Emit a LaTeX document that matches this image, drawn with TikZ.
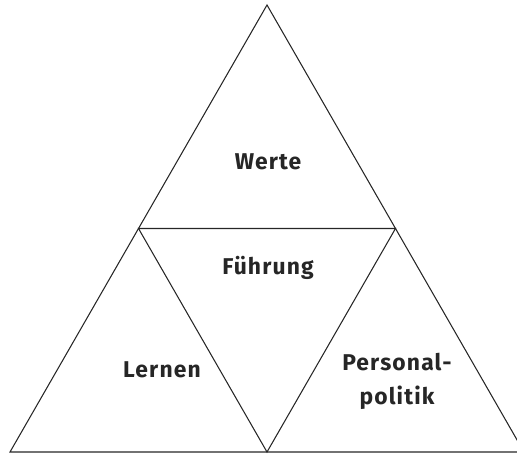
\documentclass[tikz,border=0pt]{standalone}
\usepackage{fontspec}
\setmainfont{Fira Sans}
\begin{document}
\begin{tikzpicture}[x=0.02cm,y=-0.02cm,
		seite/.style={line width=0.6pt,draw=black!85},
		feld/.style={font=\fontsize{13}{19.5}\selectfont\bfseries\addfontfeatures{LetterSpace=5},text=black!85,align=center}]
		\useasboundingbox (0,0) rectangle (517,453);
		\clip (0,0) rectangle (517,453);
		% Ecken
		\coordinate (oben) at (267,5);
		\coordinate (links) at (10,452);
		\coordinate (rechts) at (524,452);
		\coordinate (ml) at (138.5,228.5);
		\coordinate (mr) at (395.5,228.5);
		\coordinate (mu) at (267,452);

		% Dreiecke
		\draw [seite] (oben) -- (links) -- (rechts) -- cycle;
		\draw [seite] (ml) -- (mr) -- (mu) -- cycle;

		% Beschriftung
		\node [feld] (werte) at (268,162) {Werte};
		\node [feld] (fuehrung) at (268,268) {Führung};
		\node [feld] (lernen) at (162,370) {Lernen};
		\node [feld] (personal) at (397,381) {Personal-\\politik};
	\end{tikzpicture}
\end{document}
